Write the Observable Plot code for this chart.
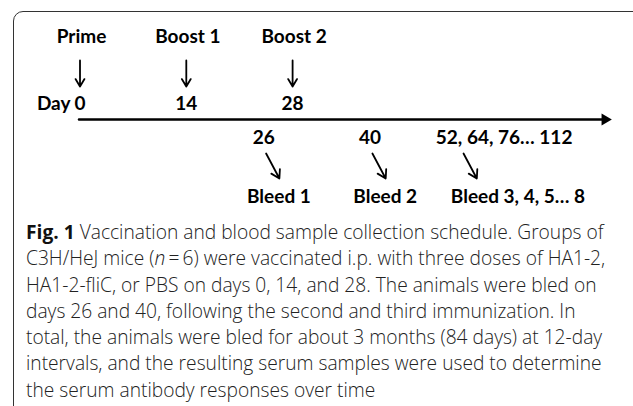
<!DOCTYPE html>
<html><head><meta charset="utf-8">
<script src="https://cdn.jsdelivr.net/npm/d3@7"></script>
<script src="https://cdn.jsdelivr.net/npm/@observablehq/plot@0.6"></script>
<style>
html,body{margin:0;padding:0;background:#fff;width:633px;height:406px;overflow:hidden;}
#frame{position:absolute;left:12.5px;top:11px;width:640px;height:440px;border:1.5px solid #333;border-radius:10px;box-sizing:border-box;}
#chart{position:absolute;left:0;top:0;}
#caption{position:absolute;left:26px;top:219px;font-family:"Open Sans",sans-serif;font-weight:300;font-size:19.2px;line-height:26.3px;color:#222;white-space:nowrap;}
#caption b{font-weight:700;color:#111}
</style></head><body>
<div id="frame"></div>
<div id="chart"></div>
<div id="caption"></div>
<script>
const doseDays = [0, 14, 28];
const doseNames = ["Prime", "Boost 1", "Boost 2"];
const doseDayLabels = ["0", "14", "28"];
const dayPrefix = "Day";
const bleedDays = [26, 40, 52];
const bleedDayLabels = ["26", "40", "52, 64, 76… 112"];
const bleedNames = ["Bleed 1", "Bleed 2", "Bleed 3, 4, 5… 8"];
const timelineDays = [0, 70];
const captionLines = [
  "Fig. 1 Vaccination and blood sample collection schedule. Groups of",
  "C3H/HeJ mice (n = 6) were vaccinated i.p. with three doses of HA1-2,",
  "HA1-2-fliC, or PBS on days 0, 14, and 28. The animals were bled on",
  "days 26 and 40, following the second and third immunization. In",
  "total, the animals were bled for about 3 months (84 days) at 12-day",
  "intervals, and the resulting serum samples were used to determine",
  "the serum antibody responses over time"
];

const doses = doseDays.map((d, i) => ({day: d, name: doseNames[i], label: doseDayLabels[i]}));
const bleeds = bleedDays.map((d, i) => ({day: d, label: bleedDayLabels[i], name: bleedNames[i], series: bleedNames[i].includes("…")}));
const font = {fontFamily: "Lato, sans-serif", fontWeight: "bold", fontSize: 19, fill: "#000"};
const W = 633, H = 215;

const chart = Plot.plot({
  width: W, height: H, margin: 0,
  x: {domain: [0, 70], range: [79.5, 611], axis: null},
  y: {domain: [0, H], range: [0, H], axis: null},
  marks: [
    Plot.text(doses, {x: "day", y: 36.5, text: "name", dx: 1.5, ...font}),
    Plot.arrow(doses, {x1: "day", x2: "day", y1: 60, y2: 86, stroke: "#000", strokeWidth: 1.8, headLength: 10, headAngle: 62}),
    Plot.text(doses, {x: "day", y: 103.5, text: "label", dx: 0, ...font}),
    Plot.text([timelineDays[0]], {x: d => d, y: 103.5, text: () => dayPrefix, textAnchor: "end", dx: -9.5, ...font}),
    Plot.arrow([timelineDays], {x1: d => d[0], x2: d => d[1], y1: 119, y2: 119, stroke: "#000", strokeWidth: 2.5, headLength: 0, insetEnd: 7, insetStart: -1}),
    Plot.dot([timelineDays[1]], {x: d => d, y: 119, symbol: "triangle", rotate: 90, r: 4.4, fill: "#000", stroke: "none", dx: -6.5}),
    Plot.text(bleeds.filter(d => !d.series), {x: "day", y: 137, text: "label", dx: -13.7, ...font}),
    Plot.text(bleeds.filter(d => d.series), {x: "day", y: 137, text: "label", textAnchor: "start", dx: -39, ...font}),
    Plot.arrow(bleeds, {x1: "day", x2: d => d.day + 1.75, y1: 153, y2: 178, dx: -11.3, stroke: "#000", strokeWidth: 1.8, headLength: 10, headAngle: 62}),
    Plot.text(bleeds.filter(d => !d.series), {x: "day", y: 196, text: "name", dx: 1.5, ...font}),
    Plot.text(bleeds.filter(d => d.series), {x: "day", y: 196, text: "name", textAnchor: "start", dx: -24, ...font})
  ]
});
document.getElementById("chart").appendChild(chart);

const cap = document.getElementById("caption");
captionLines.forEach((line, i) => {
  const div = document.createElement("div");
  let html = line.replace("(n = 6)", "(<i>n</i>\u2009=\u20096)");
  if (i === 0) html = html.replace("Fig. 1", "<b>Fig. 1</b>");
  div.innerHTML = html;
  cap.appendChild(div);
});
</script>
</body></html>
